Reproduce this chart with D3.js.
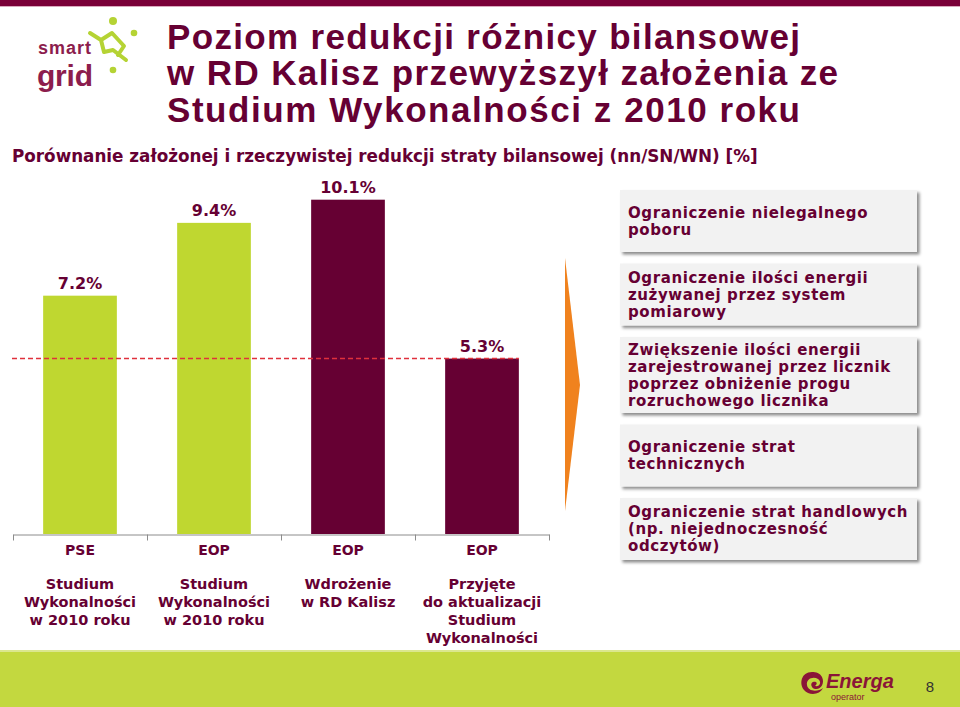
<!DOCTYPE html>
<html><head><meta charset="utf-8">
<script src="https://cdn.jsdelivr.net/npm/d3@7"></script>
<style>body{margin:0;background:#fff}svg{display:block}</style>
</head><body>
<svg id="c" width="960" height="707"></svg>
<script>
// ---------- data ----------
const categories = ["PSE", "EOP", "EOP", "EOP"];
const values = [7.2, 9.4, 10.1, 5.3];
const seriesOf = ["plan", "plan", "actual", "actual"];
const subLabels = [
  ["Studium", "Wykonalności", "w 2010 roku"],
  ["Studium", "Wykonalności", "w 2010 roku"],
  ["Wdrożenie", "w RD Kalisz"],
  ["Przyjęte", "do aktualizacji", "Studium", "Wykonalności"]
];
const referenceLevel = 5.3;
const measures = [
  ["Ograniczenie nielegalnego", "poboru"],
  ["Ograniczenie ilości energii", "zużywanej przez system", "pomiarowy"],
  ["Zwiększenie ilości energii", "zarejestrowanej przez licznik", "poprzez obniżenie progu", "rozruchowego licznika"],
  ["Ograniczenie strat", "technicznych"],
  ["Ograniczenie strat handlowych", "(np. niejednoczesność", "odczytów)"]
];
const titleLines = ["Poziom redukcji różnicy bilansowej", "w RD Kalisz przewyższył założenia ze", "Studium Wykonalności z 2010 roku"];
const titleWidths = [633, 671, 633];
const subtitle = "Porównanie założonej i rzeczywistej redukcji straty bilansowej (nn/SN/WN) [%]";

// ---------- styles ----------
const MAROON = "#660033";
const GREEN = "#bfd730";
const VERD = "Verdana, 'DejaVu Sans', sans-serif";
const ARIAL = "Arial, 'Liberation Sans', sans-serif";

const svg = d3.select("#c");
const defs = svg.append("defs");
const f = defs.append("filter").attr("id", "sh").attr("x", "-5%").attr("y", "-10%").attr("width", "115%").attr("height", "130%");
f.append("feDropShadow").attr("dx", 2.5).attr("dy", 2.5).attr("stdDeviation", 1.6).attr("flood-color", "#000").attr("flood-opacity", 0.45);

// top strip
svg.append("rect").attr("x", 0).attr("y", 0).attr("width", 960).attr("height", 6).attr("fill", "#7a0038");
svg.append("rect").attr("x", 0).attr("y", 6).attr("width", 960).attr("height", 1).attr("fill", "#d9a9bd");

// smart grid logo
const logo = svg.append("g");
const lt = logo.append("text").attr("font-family", ARIAL).attr("font-weight", "bold").attr("fill", "#8c1d4d");
lt.append("tspan").attr("x", 38).attr("y", 54).attr("font-size", 18).attr("textLength", 53).text("smart");
lt.append("tspan").attr("x", 37).attr("y", 85.5).attr("font-size", 30).attr("textLength", 56).text("grid");
const lime = "#b5d334";
logo.append("path").attr("d", "M90,33 L101,40 L112,33 L124,46 L118,55 M101,40 L104,52 L113,50 L126,60")
  .attr("fill", "none").attr("stroke", lime).attr("stroke-width", 4).attr("stroke-linejoin", "round").attr("stroke-linecap", "round");
logo.append("circle").attr("cx", 113).attr("cy", 21).attr("r", 4).attr("fill", lime);
logo.append("circle").attr("cx", 134).attr("cy", 33).attr("r", 3.3).attr("fill", lime);
logo.append("circle").attr("cx", 113).attr("cy", 70).attr("r", 3.3).attr("fill", lime);

// title
svg.append("g").selectAll("text").data(titleLines).join("text")
  .attr("x", 167).attr("y", (d, i) => 48.5 + i * 36.5)
  .attr("font-family", ARIAL).attr("font-weight", "bold").attr("font-size", 35).attr("fill", MAROON)
  .attr("textLength", (d, i) => titleWidths[i]).attr("lengthAdjust", "spacing")
  .text(d => d);

svg.append("text").attr("x", 12).attr("y", 162).attr("font-family", VERD).attr("font-weight", "bold")
  .attr("font-size", 16.8).attr("fill", MAROON).text(subtitle);

// ---------- chart ----------
const idx = values.map((d, i) => i);
const x = d3.scaleBand().domain(idx).range([13, 549]).paddingInner(0.45).paddingOuter(0.225);
const y = d3.scaleLinear().domain([0, 12]).range([534, 534 - 12 * 33.1]);
const color = d3.scaleOrdinal().domain(["plan", "actual"]).range([GREEN, MAROON]);

svg.append("g").selectAll("rect").data(idx).join("rect")
  .attr("x", i => x(i)).attr("width", x.bandwidth())
  .attr("y", i => y(values[i])).attr("height", i => y(0) - y(values[i]))
  .attr("fill", i => color(seriesOf[i]));

svg.append("g").selectAll("text").data(idx).join("text")
  .attr("x", i => x(i) + x.bandwidth() / 2).attr("y", i => y(values[i]) - 7)
  .attr("text-anchor", "middle").attr("font-family", VERD).attr("font-weight", "bold")
  .attr("font-size", 16).attr("fill", MAROON).text(i => values[i].toFixed(1) + "%");

// reference dashed line
svg.append("line").attr("x1", 12).attr("x2", x(3) + x.bandwidth())
  .attr("y1", y(referenceLevel)).attr("y2", y(referenceLevel))
  .attr("stroke", "#e0303c").attr("stroke-width", 1.5).attr("stroke-dasharray", "5,3");

// category axis (ticks at band boundaries)
const xb = d3.scaleLinear().domain([0, categories.length]).range(x.range());
const ax = svg.append("g").attr("transform", `translate(0,${y(0) + 0.5})`)
  .call(d3.axisBottom(xb).tickValues(d3.range(categories.length + 1))
    .tickFormat("").tickSizeInner(6).tickSizeOuter(0));
ax.selectAll("path,line").attr("stroke", "#8c8c8c");

svg.append("g").selectAll("text").data(idx).join("text")
  .attr("x", i => x(i) + x.bandwidth() / 2).attr("y", 555)
  .attr("text-anchor", "middle").attr("font-family", VERD).attr("font-weight", "bold")
  .attr("font-size", 14).attr("fill", MAROON).text(i => categories[i]);

const sl = svg.append("g").selectAll("text").data(idx).join("text")
  .attr("text-anchor", "middle").attr("font-family", VERD).attr("font-weight", "bold")
  .attr("font-size", 14.5).attr("fill", MAROON);
sl.selectAll("tspan").data(i => subLabels[i].map(t => ({ t, i }))).join("tspan")
  .attr("x", d => x(d.i) + x.bandwidth() / 2).attr("y", (d, k) => 589 + k * 18).text(d => d.t);

// arrow
svg.append("path").attr("d", "M565,258 L580,385 L565,511 Z").attr("fill", "#f0821e");

// measure boxes
const boxes = svg.append("g");
let boxTop = 190;
measures.forEach((lines) => {
  const h = Math.max(62, lines.length * 17 + 8);
  const g = boxes.append("g");
  g.append("rect").attr("x", 620).attr("y", boxTop).attr("width", 297).attr("height", h)
    .attr("fill", "#f2f2f2").attr("filter", "url(#sh)");
  const first = boxTop + h / 2 - (lines.length - 1) * 17 / 2 + 5;
  g.append("g").selectAll("text").data(lines).join("text")
    .attr("x", 628).attr("y", (d, k) => first + k * 17)
    .attr("font-family", VERD).attr("font-weight", "bold").attr("font-size", 15)
    .attr("letter-spacing", 0.6).attr("fill", MAROON)
    .text(d => d);
  boxTop += h + 11.5;
});

// footer
svg.append("rect").attr("x", 0).attr("y", 650).attr("width", 960).attr("height", 57).attr("fill", "#c3d83f");
svg.append("rect").attr("x", 0).attr("y", 650).attr("width", 960).attr("height", 2).attr("fill", "#dbe78e");
const en = svg.append("g");
en.append("path").attr("d", "M812,672 C801,672 799,684 804,690 C809,696 820,695 823,688 C818,692 808,692 807,685 C806,679 813,676 818,679 C822,682 820,687 815,686 C818,684 817,681 813,682 C810,683 811,688 815,689 C821,690 825,683 822,677 C820,673 816,672 812,672 Z")
  .attr("fill", "#8a1538");
const et = en.append("text").attr("font-family", ARIAL).attr("fill", "#8a1538");
et.append("tspan").attr("x", 826).attr("y", 688).attr("font-weight", "bold").attr("font-style", "italic")
  .attr("font-size", 20).text("Energa");
et.append("tspan").attr("x", 831).attr("y", 700).attr("font-size", 9).text("operator");
svg.append("text").attr("x", 930).attr("y", 692).attr("text-anchor", "middle").attr("font-family", ARIAL)
  .attr("font-size", 15).attr("fill", "#333").text("8");
</script>
</body></html>
